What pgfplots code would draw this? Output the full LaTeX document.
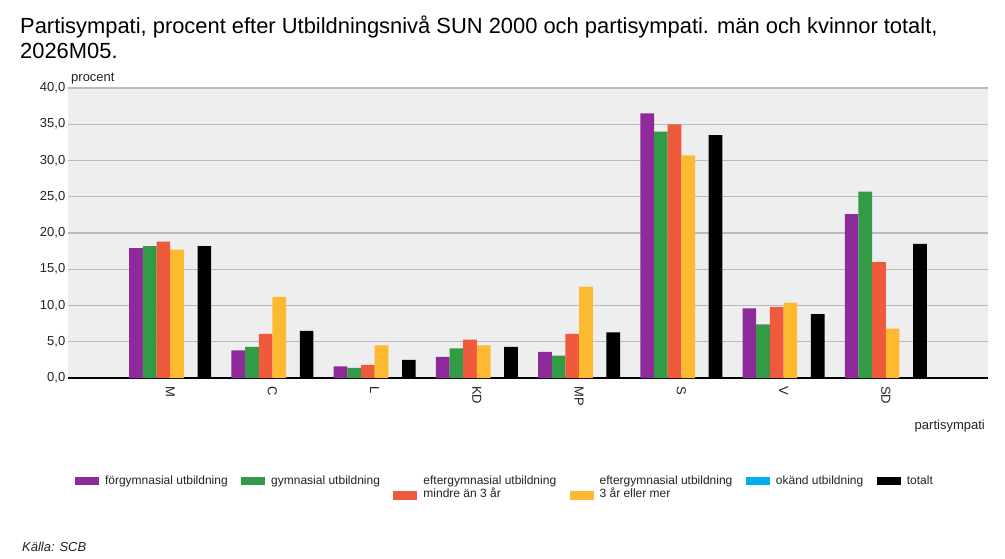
\documentclass[border=0pt]{standalone}
\usepackage{fontspec}
\setmainfont{Liberation Sans}
\usepackage{pgfplots}
\pgfplotsset{compat=1.18}
\definecolor{cPur}{HTML}{8E2A99}
\definecolor{cGrn}{HTML}{339A45}
\definecolor{cRed}{HTML}{EF5A3C}
\definecolor{cYel}{HTML}{FDBA30}
\definecolor{cCya}{HTML}{00ADEF}
\definecolor{cBg}{HTML}{EEEEEE}
\definecolor{cGrid}{HTML}{BBBBBB}
\definecolor{cTxt}{HTML}{222222}
\pgfplotsset{
  boxone/.style={legend image code/.code={\fill[##1] (0bp,-0.5bp) rectangle (24bp,-8.5bp);}},
  boxtwo/.style={legend image code/.code={\fill[##1] (0bp,-15bp) rectangle (24bp,-24bp);}},
}
\begin{document}
\begin{tikzpicture}
\useasboundingbox (0,0) rectangle (1005bp,-559bp);
\node[anchor=base west, inner sep=0, text=black, font=\fontsize{21.9bp}{25bp}\selectfont] at (20bp,-33bp) {Partisympati, procent efter Utbildningsnivå SUN 2000 och partisympati. män och kvinnor totalt,};
\node[anchor=base west, inner sep=0, text=black, font=\fontsize{21.9bp}{25bp}\selectfont] at (20bp,-58bp) {2026M05.};
\node[anchor=base west, inner sep=0, text=cTxt, font=\fontsize{13bp}{15bp}\selectfont\itshape] at (22bp,-551bp) {Källa: SCB};
\begin{axis}[
  at={(68bp,-378bp)}, anchor=south west,
  scale only axis, width=920bp, height=290bp,
  xmin=0, xmax=9, ymin=0, ymax=40,
  enlarge x limits=false,
  ybar=0pt,
  axis background/.style={fill=cBg},
  separate axis lines,
  axis x line*=bottom, axis y line*=left,
  x axis line style={black, line width=1.3bp, -},
  y axis line style={draw=none},
  ymajorgrids, grid style={cGrid, line width=1.2bp},
  major tick length=0pt,
  xtick style={draw=none}, ytick style={draw=none},
  ytick={0,5,...,40},
  xtick={1,...,8},
  xticklabels={M,C,L,KD,MP,S,V,SD},
  /pgf/number format/assume math mode=true,
  tick label style={font=\fontsize{13bp}{15bp}\selectfont, text=cTxt},
  yticklabel style={inner xsep=2.5bp, /pgf/number format/.cd, fixed, fixed zerofill, precision=1, use comma},
  xticklabel style={rotate=-90, anchor=west, inner xsep=8bp},
  xlabel={partisympati},
  every axis x label/.style={at={(rel axis cs:1,0)}, anchor=base east, xshift=-3bp, yshift=-51bp, inner sep=0pt, font=\fontsize{13bp}{15bp}\selectfont, text=cTxt},
  ylabel={procent},
  every axis y label/.style={at={(rel axis cs:0,1)}, anchor=base west, xshift=3bp, yshift=7bp, inner sep=0pt, rotate=0, font=\fontsize{13bp}{15bp}\selectfont, text=cTxt},
  legend columns=6,
  legend style={at={(rel axis cs:0,0)}, anchor=north west, xshift=7bp, yshift=-98bp,
    draw=none, fill=none, inner sep=0pt, outer sep=0pt,
    font=\fontsize{12bp}{13bp}\selectfont, text=cTxt,
    nodes={anchor=north west, inner xsep=0pt, inner ysep=0pt, align=left},
    /tikz/every odd column/.append style={column sep=6bp},
    /tikz/every even column/.append style={column sep=13.5bp}},
  legend cell align=left,
]
\addplot[fill=cPur, draw=none, bar width=13.67bp, bar shift=-34.17bp, boxone] coordinates {(1,17.9) (2,3.8) (3,1.6) (4,2.9) (5,3.6) (6,36.5) (7,9.6) (8,22.6)};
\addlegendentry{förgymnasial utbildning}
\addplot[fill=cGrn, draw=none, bar width=13.67bp, bar shift=-20.5bp, boxone] coordinates {(1,18.2) (2,4.3) (3,1.4) (4,4.1) (5,3.1) (6,34.0) (7,7.4) (8,25.7)};
\addlegendentry{gymnasial utbildning}
\addplot[fill=cRed, draw=none, bar width=13.67bp, bar shift=-6.83bp, boxtwo] coordinates {(1,18.8) (2,6.1) (3,1.8) (4,5.3) (5,6.1) (6,35.0) (7,9.8) (8,16.0)};
\addlegendentry[align=left]{eftergymnasial utbildning\\mindre än 3 år}
\addplot[fill=cYel, draw=none, bar width=13.67bp, bar shift=6.83bp, boxtwo] coordinates {(1,17.7) (2,11.2) (3,4.5) (4,4.5) (5,12.6) (6,30.7) (7,10.4) (8,6.8)};
\addlegendentry[align=left]{eftergymnasial utbildning\\3 år eller mer}
\addlegendimage{fill=cCya, draw=none, boxone}
\addlegendentry{okänd utbildning}
\addplot[fill=black, draw=none, bar width=13.67bp, bar shift=34.17bp, boxone] coordinates {(1,18.2) (2,6.5) (3,2.5) (4,4.3) (5,6.3) (6,33.5) (7,8.8) (8,18.5)};
\addlegendentry{totalt}
\end{axis}
\end{tikzpicture}
\end{document}
